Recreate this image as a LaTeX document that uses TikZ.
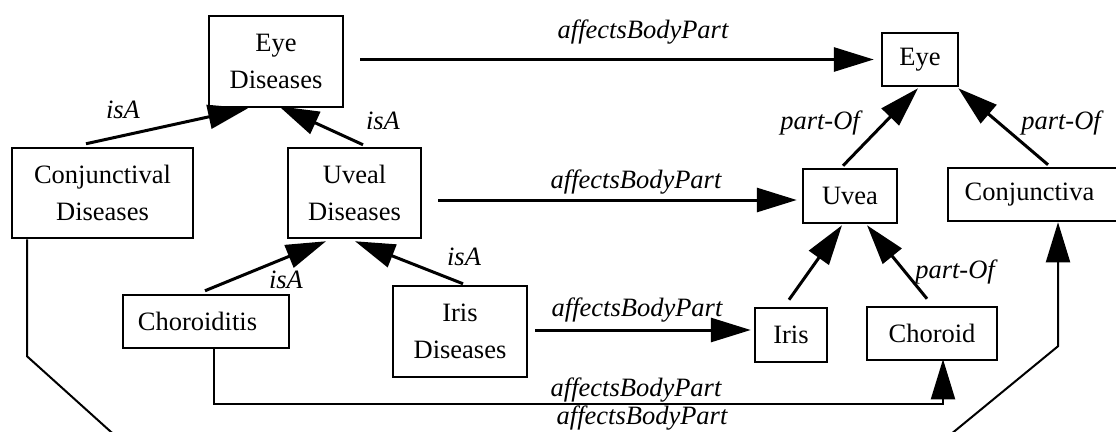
\documentclass[tikz,border=0pt]{standalone}
\usepackage{fontspec}
\setmainfont{Liberation Serif}
\usetikzlibrary{arrows.meta}
\begin{document}
\begin{tikzpicture}[x=1pt,y=-1pt,
  box/.style={draw,line width=2.5pt,rectangle,inner sep=0pt,align=center,
    font=\fontsize{26.5}{37}\selectfont},
  lbl/.style={inner sep=0pt,font=\fontsize{26.5}{32}\selectfont\itshape},
  arr/.style={line width=3pt,-{Triangle[length=40pt,width=24pt]}},
  tarr/.style={line width=2pt,-{Triangle[length=40pt,width=24pt]}}]
\path[use as bounding box,clip] (0,0) rectangle (1116,431);
\fill[white] (0,0) rectangle (1116,431);
% boxes
\node[box,minimum width=134pt,minimum height=91pt] (ED) at (276,61.5) {Eye\\Diseases};
\node[box,minimum width=181pt,minimum height=90pt] (CD) at (102.5,193) {Conjunctival\\Diseases};
\node[box,minimum width=133pt,minimum height=90pt] (UD) at (354.5,193) {Uveal\\Diseases};
\node[box,minimum width=166pt,minimum height=53pt] (CH) at (206,321.5) {\hspace*{-17pt}Choroiditis};
\node[box,minimum width=134pt,minimum height=91pt] (ID) at (460,331.5) {Iris\\Diseases};
\node[box,minimum width=76pt,minimum height=53pt] (Eye) at (920,59.5) {Eye};
\node[box,minimum width=94pt,minimum height=54pt] (Uvea) at (850,196) {Uvea};
\node[box,minimum width=176pt,minimum height=53pt] (CJ) at (1036,194.5) {\hspace*{-13pt}Conjunctiva};
\node[box,minimum width=72pt,minimum height=54pt] (Iris) at (791,335) {Iris};
\node[box,minimum width=130pt,minimum height=53pt] (Choroid) at (932,333.5) {Choroid};
% affectsBodyPart
\draw[arr] ([xshift=16pt,yshift=2pt]ED.east) -- ([xshift=-7pt]Eye.west);
\node[lbl] (l1) at (643,32) {affectsBodyPart};
\draw[arr] ([xshift=16pt,yshift=-7pt]UD.east) -- ([xshift=-5pt,yshift=-4pt]Uvea.west);
\node[lbl] (l2) at (636,182) {affectsBodyPart};
\draw[arr] ([xshift=7pt,yshift=1.5pt]ID.east) -- ([xshift=-3pt,yshift=5pt]Iris.west);
\node[lbl] (l3) at (637,310) {affectsBodyPart};
\draw[tarr] ([xshift=8pt]CH.south) -- ++(0,55) -| ([xshift=11pt,yshift=2pt]Choroid.south);
\node[lbl] (l4) at (636,390) {affectsBodyPart};
\draw[tarr] ([xshift=-75.5pt]CD.south) -- ++(0,117) -- ++(101,91) -- ++(807,0) -- ++(123,-101) -- ([xshift=22pt]CJ.south);
\node[lbl] (l5) at (642,418) {affectsBodyPart};
% isA
\draw[arr] ([xshift=-16.5pt,yshift=3pt]CD.north) -- ([xshift=-28pt]ED.south);
\node[lbl] (i1) at (123,110) {isA};
\draw[arr] ([xshift=8.5pt,yshift=2pt]UD.north) -- ([xshift=3pt,yshift=2pt]ED.south);
\node[lbl] (i2) at (383,121) {isA};
\draw[arr] ([xshift=-1pt,yshift=3pt]CH.north) -- ([xshift=-28.5pt,yshift=-2pt]UD.south);
\node[lbl] (i3) at (286,280) {isA};
\draw[arr] ([xshift=3pt,yshift=1pt]ID.north) -- ([xshift=0.5pt,yshift=-2pt]UD.south);
\node[lbl] (i4) at (464,257) {isA};
% part-Of
\draw[arr] ([xshift=-7pt,yshift=2pt]Uvea.north) -- ([xshift=-2pt,yshift=-1pt]Eye.south);
\node[lbl] (p1) at (820,123) {part-Of};
\draw[arr] ([xshift=12pt,yshift=2pt]CJ.north) -- ([xshift=-1pt,yshift=-1pt]Eye.south east);
\node[lbl] (p2) at (1061,123) {part-Of};
\draw[arr] ([xshift=-2pt,yshift=7pt]Iris.north) -- ([xshift=-8pt,yshift=-1pt]Uvea.south);
\draw[arr] ([xshift=-5pt,yshift=7pt]Choroid.north) -- ([xshift=17pt,yshift=-1pt]Uvea.south);
\node[lbl] (p3) at (955,272) {part-Of};
\end{tikzpicture}
\end{document}
